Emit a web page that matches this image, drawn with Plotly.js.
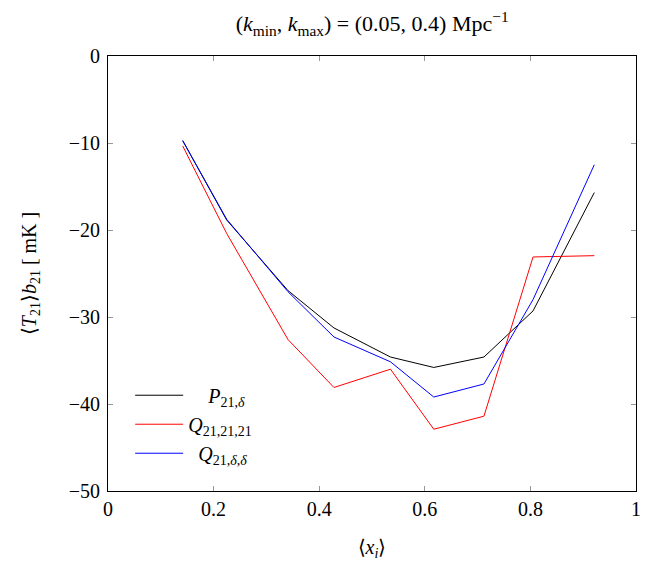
<!DOCTYPE html>
<html>
<head>
<meta charset="utf-8">
<script src="https://cdn.plot.ly/plotly-3.0.1.min.js"></script>
<style>html,body{margin:0;padding:0;background:#fff;} #chart{width:664px;height:565px;}</style>
</head>
<body>
<div id="chart"></div>
<script>
const xi = [0.1415, 0.2248, 0.341, 0.428, 0.535, 0.617, 0.712, 0.805, 0.921];
const P21delta = [-9.73, -18.85, -26.97, -31.26, -34.6, -35.8, -34.6, -29.3, -15.7];
const Q212121 = [-10.34, -20.4, -32.6, -38.1, -36.0, -42.9, -41.4, -23.1, -22.95];
const Q21dd = [-9.73, -18.77, -27.1, -32.3, -35.15, -39.2, -37.7, -28.0, -12.5];
const seriesNames = ['\u00a0\u00a0\u00a0\u00a0<i>P</i><sub>21,<i>δ</i></sub>', '<i>Q</i><sub>21,21,21</sub>', '\u00a0\u00a0<i>Q</i><sub>21,<i>δ</i>,<i>δ</i></sub>'];
const xTicks = [0, 0.2, 0.4, 0.6, 0.8, 1];
const yTicks = [-50, -40, -30, -20, -10, 0];

const fam = 'Liberation Serif, serif';
const traces = [
  {x: xi, y: P21delta, name: seriesNames[0], mode: 'lines', line: {color: '#000000', width: 1}},
  {x: xi, y: Q212121, name: seriesNames[1], mode: 'lines', line: {color: '#ff0000', width: 1}},
  {x: xi, y: Q21dd, name: seriesNames[2], mode: 'lines', line: {color: '#0000ff', width: 1}}
];
const layout = {
  width: 664, height: 565,
  margin: {l: 108, r: 28, t: 56, b: 74},
  paper_bgcolor: '#fff', plot_bgcolor: '#fff',
  font: {family: fam, size: 20, color: '#000'},
  title: {text: '(<i>k</i><sub>min</sub>, <i>k</i><sub>max</sub>) = (0.05, 0.4) Mpc<sup>−1</sup>', x: 0.5605, xanchor: 'center', y: 0.972, yanchor: 'top', font: {family: fam, size: 22}},
  xaxis: {
    range: [0, 1], tickvals: xTicks, ticktext: xTicks.map(v => String(v)),
    ticks: 'inside', ticklen: 5, tickcolor: '#999', tickwidth: 1,
    showline: true, linecolor: '#000', linewidth: 1, mirror: 'ticks',
    showgrid: false, zeroline: false,
    tickfont: {family: fam, size: 20},
    title: {text: '⟨<i>x</i><sub><i>i</i></sub>⟩', font: {family: fam, size: 20}, standoff: 20}
  },
  yaxis: {
    range: [-50, 0], tickvals: yTicks,
    ticks: 'inside', ticklen: 5, tickcolor: '#999', tickwidth: 1,
    showline: true, linecolor: '#000', linewidth: 1, mirror: 'ticks',
    showgrid: false, zeroline: false,
    ticklabelstandoff: 3,
    tickfont: {family: fam, size: 20},
    title: {text: '⟨<i>T</i><sub>21</sub>⟩<i>b</i><sub>21</sub> [ mK ]', font: {family: fam, size: 20}, standoff: 26}
  },
  showlegend: true,
  legend: {x: 0.042, xanchor: 'left', y: 0.265, yanchor: 'top', itemwidth: 48, bgcolor: 'rgba(255,255,255,0)', borderwidth: 0, font: {family: fam, size: 20}, tracegroupgap: 0}
};
Plotly.newPlot('chart', traces, layout, {displayModeBar: false, staticPlot: true});
</script>
</body>
</html>
